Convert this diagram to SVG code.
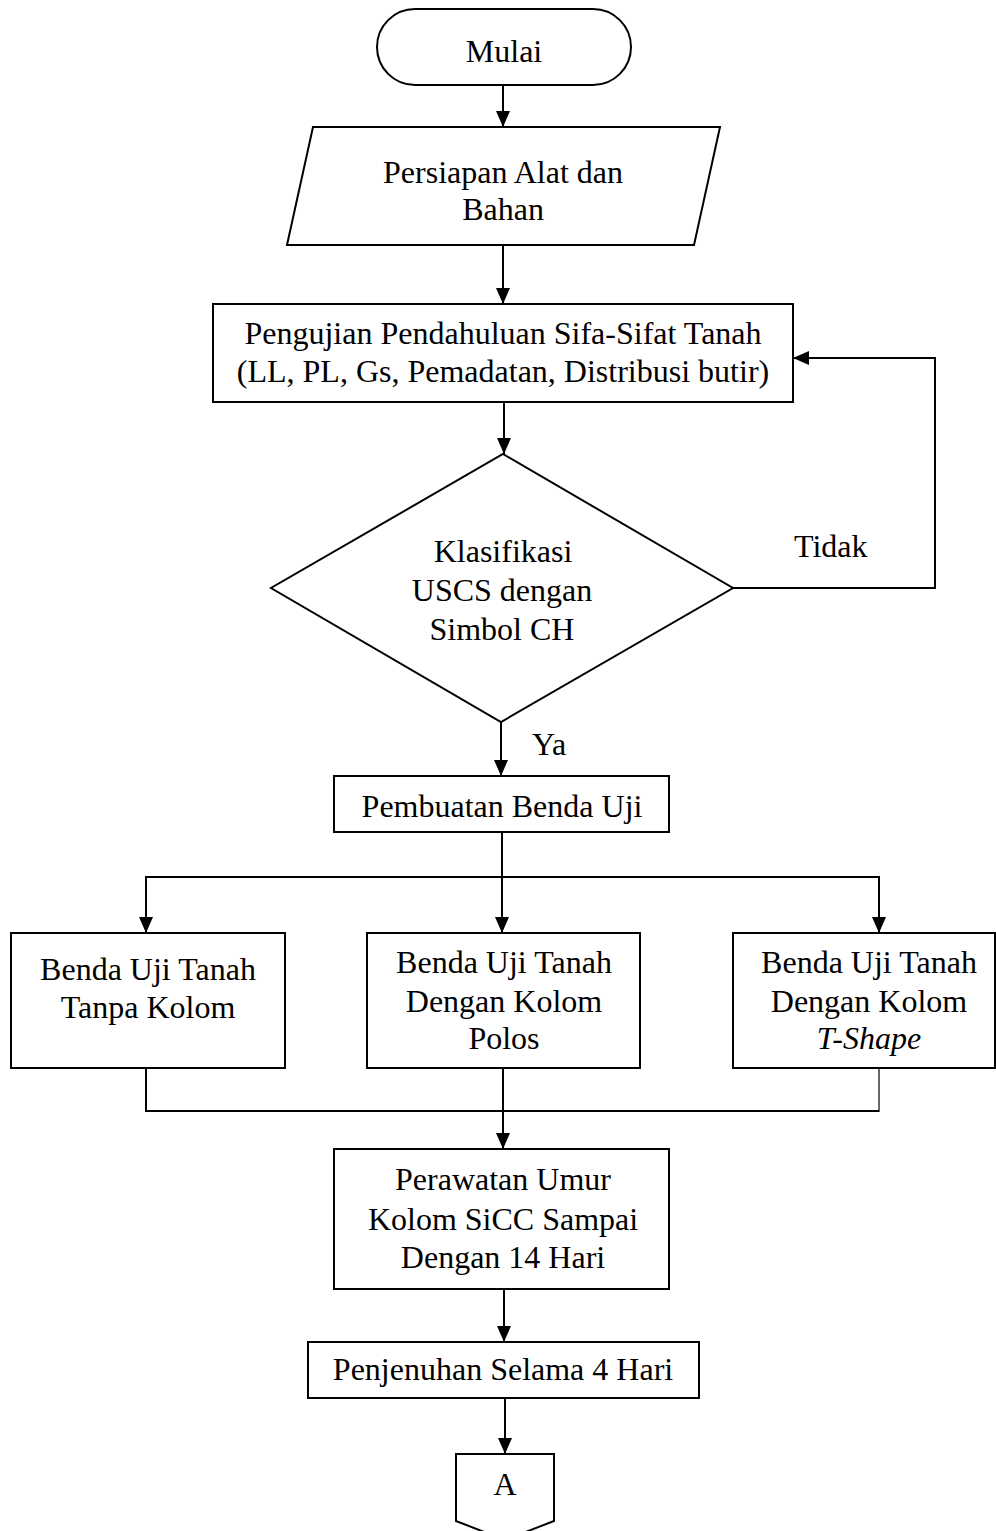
<svg xmlns="http://www.w3.org/2000/svg" width="996" height="1531" viewBox="0 0 996 1531">
<defs>
<style>
.s{fill:#fff;stroke:#000;stroke-width:2}
.c{fill:none;stroke:#000;stroke-width:2}
text{font-family:"Liberation Serif","Times New Roman",serif;font-size:32px;fill:#000;text-anchor:middle}
.l{text-anchor:start}
.i{font-style:italic}
</style>
<marker id="ah" markerUnits="userSpaceOnUse" markerWidth="17" markerHeight="14" refX="16" refY="7" orient="auto">
<path d="M0,0 L16,7 L0,14 Z" fill="#000"/>
</marker>
</defs>
<rect width="996" height="1531" fill="#fff"/>
<g id="connectors">
<line class="c" x1="503" y1="85" x2="503" y2="127" marker-end="url(#ah)"/>
<line class="c" x1="503" y1="245" x2="503" y2="304" marker-end="url(#ah)"/>
<line class="c" x1="504" y1="402" x2="504" y2="454" marker-end="url(#ah)"/>
<polyline class="c" points="733,588 935,588 935,358 793,358" marker-end="url(#ah)"/>
<line class="c" x1="501" y1="722" x2="501" y2="776" marker-end="url(#ah)"/>
<line class="c" x1="502" y1="832" x2="502" y2="877"/>
<line class="c" x1="146" y1="877" x2="879" y2="877"/>
<line class="c" x1="146" y1="876" x2="146" y2="933" marker-end="url(#ah)"/>
<line class="c" x1="502" y1="876" x2="502" y2="933" marker-end="url(#ah)"/>
<line class="c" x1="879" y1="876" x2="879" y2="933" marker-end="url(#ah)"/>
<line class="c" x1="146" y1="1068" x2="146" y2="1112"/>
<line class="c" x1="879" y1="1068" x2="879" y2="1112" style="stroke-width:1.2"/>
<line class="c" x1="146" y1="1111" x2="879" y2="1111"/>
<line class="c" x1="503" y1="1068" x2="503" y2="1149" marker-end="url(#ah)"/>
<line class="c" x1="504" y1="1289" x2="504" y2="1342" marker-end="url(#ah)"/>
<line class="c" x1="505" y1="1398" x2="505" y2="1454" marker-end="url(#ah)"/>
<text class="l" x="794" y="557">Tidak</text>
<text class="l" x="532" y="755">Ya</text>
</g>
<g id="mulai">
<rect class="s" x="377" y="9" width="254" height="76" rx="38" ry="38"/>
<text x="504" y="62">Mulai</text>
</g>
<g id="persiapan">
<polygon class="s" points="313,127 720,127 694,245 287,245"/>
<text x="503" y="183">Persiapan Alat dan</text>
<text x="503" y="220">Bahan</text>
</g>
<g id="pengujian">
<rect class="s" x="213" y="304" width="580" height="98"/>
<text x="503" y="344">Pengujian Pendahuluan Sifa-Sifat Tanah</text>
<text x="503" y="382">(LL, PL, Gs, Pemadatan, Distribusi butir)</text>
</g>
<g id="klasifikasi">
<polygon class="s" points="503,454 733,588 501,722 271,588"/>
<text x="503" y="562">Klasifikasi</text>
<text x="502" y="601">USCS dengan</text>
<text x="502" y="640">Simbol CH</text>
</g>
<g id="pembuatan">
<rect class="s" x="334" y="776" width="335" height="56"/>
<text x="502" y="817">Pembuatan Benda Uji</text>
</g>
<g id="tanpa-kolom">
<rect class="s" x="11" y="933" width="274" height="135"/>
<text x="148" y="980">Benda Uji Tanah</text>
<text x="148" y="1018">Tanpa Kolom</text>
</g>
<g id="kolom-polos">
<rect class="s" x="367" y="933" width="273" height="135"/>
<text x="504" y="973">Benda Uji Tanah</text>
<text x="504" y="1012">Dengan Kolom</text>
<text x="504" y="1049">Polos</text>
</g>
<g id="kolom-tshape">
<rect class="s" x="733" y="933" width="262" height="135"/>
<text x="869" y="973">Benda Uji Tanah</text>
<text x="869" y="1012">Dengan Kolom</text>
<text class="i" x="869" y="1049">T-Shape</text>
</g>
<g id="perawatan">
<rect class="s" x="334" y="1149" width="335" height="140"/>
<text x="503" y="1190">Perawatan Umur</text>
<text x="503" y="1230">Kolom SiCC Sampai</text>
<text x="503" y="1268">Dengan 14 Hari</text>
</g>
<g id="penjenuhan">
<rect class="s" x="308" y="1342" width="391" height="56"/>
<text x="503" y="1380">Penjenuhan Selama 4 Hari</text>
</g>
<g id="konektor-a">
<polygon class="s" points="456,1454 554,1454 554,1521 505,1540 456,1521"/>
<text x="505" y="1495">A</text>
</g>
</svg>
